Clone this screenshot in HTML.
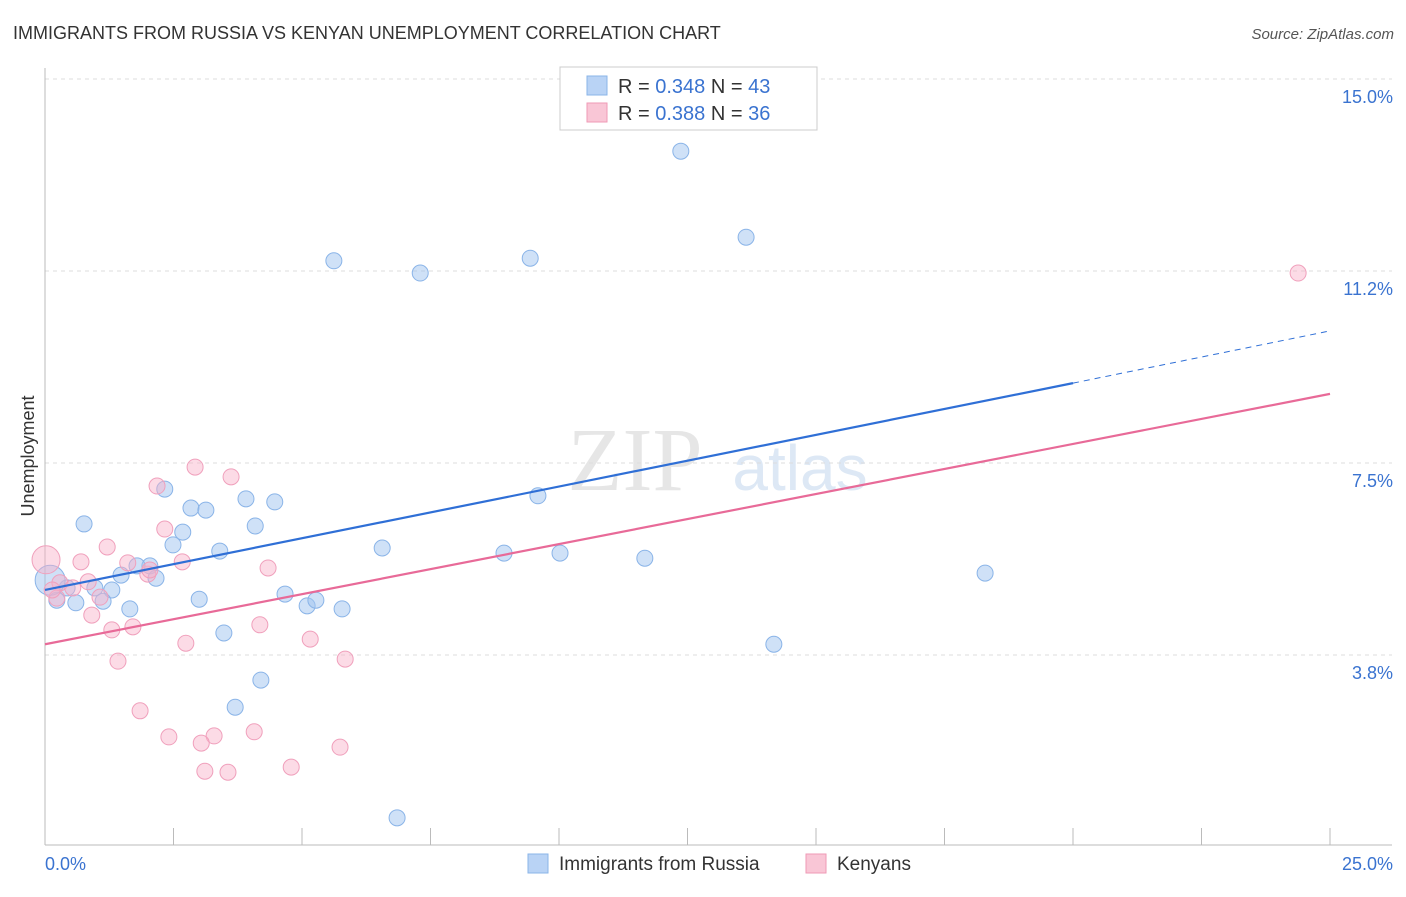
<!DOCTYPE html>
<html><head><meta charset="utf-8"><style>
body{margin:0;background:#fff;font-family:"Liberation Sans",sans-serif}
</style></head><body>
<svg id="c" width="1406" height="892" xmlns="http://www.w3.org/2000/svg">
<text x="13" y="39" font-size="18" fill="#333">IMMIGRANTS FROM RUSSIA VS KENYAN UNEMPLOYMENT CORRELATION CHART</text>
<text x="1394" y="39" font-size="15" fill="#555" font-style="italic" text-anchor="end">Source: ZipAtlas.com</text>
<text x="635" y="490" font-size="90" fill="#e6e6e6" font-family="Liberation Serif" text-anchor="middle">ZIP</text>
<text x="800" y="490" font-size="64" fill="#dde8f5" text-anchor="middle">atlas</text>
<text x="34" y="456" font-size="18" fill="#333" transform="rotate(-90 34 456)" text-anchor="middle">Unemployment</text>
<g id="grid"></g><g id="pts"></g><g id="trend"></g>
<g>
<rect x="560" y="67" width="257" height="63" fill="#fff" stroke="#ccc"/>
<rect x="587" y="76" width="20" height="19" fill="#b9d3f5" stroke="#8ab4e8"/>
<rect x="587" y="103" width="20" height="19" fill="#f9c6d6" stroke="#ef9ab6"/>
<text x="618" y="93" font-size="20" fill="#333">R = <tspan fill="#3a73d0">0.348</tspan>   N = <tspan fill="#3a73d0">43</tspan></text>
<text x="618" y="120" font-size="20" fill="#333">R = <tspan fill="#3a73d0">0.388</tspan>   N = <tspan fill="#3a73d0">36</tspan></text>
</g>
<g>
<rect x="528" y="854" width="20" height="19" fill="#b9d3f5" stroke="#8ab4e8"/>
<text x="559" y="870" font-size="19" fill="#333">Immigrants from Russia</text>
<rect x="806" y="854" width="20" height="19" fill="#f9c6d6" stroke="#ef9ab6"/>
<text x="837" y="870" font-size="19" fill="#333">Kenyans</text>
</g>
</svg>
<script>
const yTicks=[15,11.25,7.5,3.75];
const yTickLabels=["15.0%","11.2%","7.5%","3.8%"];
const xTicks=[0,2.5,5,7.5,10,12.5,15,17.5,20,22.5,25];
const russiaX=[12.37,13.64,5.62,7.30,9.44,0.76,2.33,2.84,3.13,3.91,4.47,4.09,2.68,2.49,3.40,6.56,9.59,8.93,10.02,11.67,18.29,2.04,1.48,2.16,1.79,1.30,0.97,0.43,1.13,0.60,0.23,1.65,3.00,4.67,5.10,5.27,5.78,3.48,14.18,4.20,3.70,6.85,0.10];
const russiaY=[13.59,11.91,11.45,11.21,11.50,6.31,6.99,6.62,6.58,6.80,6.74,6.27,6.15,5.90,5.78,5.84,6.86,5.74,5.74,5.64,5.35,5.49,5.31,5.25,5.49,5.02,5.06,5.06,4.80,4.77,4.82,4.65,4.84,4.94,4.71,4.82,4.65,4.18,3.96,3.26,2.73,0.57,5.21];
const kenyaX=[24.38,2.92,3.62,2.18,2.33,1.21,0.70,2.67,4.34,1.61,2.00,0.02,0.84,0.29,0.54,0.91,1.30,1.71,2.74,4.18,5.16,5.84,1.42,1.85,2.41,3.29,4.07,3.04,5.74,4.79,3.11,3.56,0.23,0.14,2.04,1.07];
const kenyaY=[11.21,7.42,7.23,7.05,6.21,5.86,5.57,5.57,5.45,5.55,5.33,5.61,5.18,5.16,5.06,4.53,4.24,4.30,3.98,4.34,4.06,3.67,3.63,2.66,2.15,2.17,2.25,2.03,1.95,1.56,1.48,1.46,4.86,5.02,5.41,4.88];
const russiaTrend=[5.02,9.06,10.08];
const kenyaTrend=[3.96,8.85];
const NS="http://www.w3.org/2000/svg";
const sx=v=>45+v*51.4, sy=v=>79+(15-v)*51.2;
function mk(t,a,p){const e=document.createElementNS(NS,t);for(const k in a)e.setAttribute(k,a[k]);p.appendChild(e);return e;}
const g=document.getElementById('grid');
yTicks.forEach((v,i)=>{
 const l=mk('line',{x1:45,x2:1392,y1:sy(v),y2:sy(v),stroke:'#ddd','stroke-dasharray':'4,4'},g);
 
 
 const t=mk('text',{x:1393,y:sy(v)+24,'font-size':18,fill:'#3a73d0','text-anchor':'end'},g);
 t.textContent=yTickLabels[i];
 
 
});
mk('line',{x1:45,x2:45,y1:68,y2:845,stroke:'#bbb'},g);
mk('line',{x1:45,x2:1392,y1:845,y2:845,stroke:'#bbb'},g);
xTicks.forEach(v=>{const l=mk('line',{x1:sx(v),x2:sx(v),y1:828,y2:845,stroke:'#bbb'},g);
 
 });
[[0,'0.0%','start',45],[25,'25.0%','end',1393]].forEach(a=>{const t=mk('text',{x:a[3],y:870,'font-size':18,fill:'#3a73d0','text-anchor':a[2]},g);t.textContent=a[1];
 
 });
const p=document.getElementById('pts');
russiaX.forEach((x,i)=>{const big=i===russiaX.length-1;
 const c=mk('circle',{cx:sx(x),cy:sy(russiaY[i]),r:big?15:8,fill:'rgba(160,195,240,0.5)',stroke:'#8ab4e8','stroke-width':1},p);
 
 });
kenyaX.forEach((x,i)=>{const big=i===11;
 const c=mk('circle',{cx:sx(x),cy:sy(kenyaY[i]),r:big?14:8,fill:'rgba(248,175,200,0.45)',stroke:'#f0a0bc','stroke-width':1},p);
 
 });
const tr=document.getElementById('trend');
let l=mk('line',{x1:sx(0),y1:sy(russiaTrend[0]),x2:sx(20),y2:sy(russiaTrend[1]),stroke:'#2f6fd6','stroke-width':2.2},tr);


l=mk('line',{x1:sx(20),y1:sy(russiaTrend[1]),x2:sx(25),y2:sy(russiaTrend[2]),stroke:'#2f6fd6','stroke-width':1,'stroke-dasharray':'6,5'},tr);


l=mk('line',{x1:sx(0),y1:sy(kenyaTrend[0]),x2:sx(25),y2:sy(kenyaTrend[1]),stroke:'#e86a98','stroke-width':2.2},tr);


</script>
</body></html>
